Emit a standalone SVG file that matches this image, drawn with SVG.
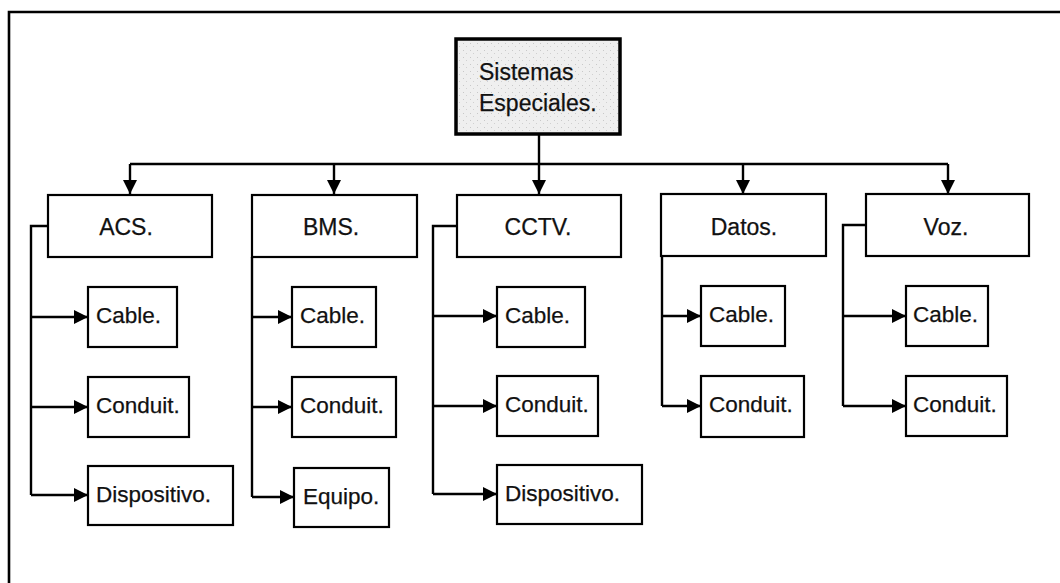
<svg xmlns="http://www.w3.org/2000/svg" width="1060" height="583" viewBox="0 0 1060 583">
<style>
  .box { fill: #ffffff; stroke: #000; stroke-width: 2.2; }
  .root { stroke: #000; stroke-width: 3.5; }
  .lbl { font-family: "Liberation Sans", Arial, sans-serif; font-size: 23px; fill: #111; stroke: #111; stroke-width: 0.25; }
  .sub { font-size: 22.5px; }
  .mid { text-anchor: middle; }
  .conn { fill: none; stroke: #000; stroke-width: 2.4; }
  .frame { fill: none; stroke: #000; stroke-width: 2.6; }
</style>
<defs>
  <marker id="ah" markerUnits="userSpaceOnUse" markerWidth="16" markerHeight="16" refX="14" refY="7" orient="auto">
    <path d="M0,0 L14,7 L0,14 Z" fill="#000"/>
  </marker>
  <pattern id="stip" width="7" height="7" patternUnits="userSpaceOnUse">
    <rect width="7" height="7" fill="#efefef"/>
    <rect x="1" y="1" width="1" height="1" fill="#c8c8c8"/>
    <rect x="4" y="4" width="1" height="1" fill="#d0d0d0"/>
  </pattern>
</defs>
<rect width="1060" height="583" fill="#ffffff"/>
<path class="frame" d="M9,583 V12 H1060"/>

<g id="connectors">
  <path class="conn" d="M539,134 V194" marker-end="url(#ah)"/>
  <path class="conn" d="M130,164 H948"/>
  <path class="conn" d="M130,164 V194" marker-end="url(#ah)"/>
  <path class="conn" d="M334,164 V194" marker-end="url(#ah)"/>
  <path class="conn" d="M743,164 V194" marker-end="url(#ah)"/>
  <path class="conn" d="M948,164 V194" marker-end="url(#ah)"/>

  <path class="conn" d="M48,226 H31 V495"/>
  <path class="conn" d="M31,317 H88" marker-end="url(#ah)"/>
  <path class="conn" d="M31,407 H88" marker-end="url(#ah)"/>
  <path class="conn" d="M31,495 H88" marker-end="url(#ah)"/>

  <path class="conn" d="M252,257 V497"/>
  <path class="conn" d="M252,317 H292" marker-end="url(#ah)"/>
  <path class="conn" d="M252,407 H292" marker-end="url(#ah)"/>
  <path class="conn" d="M252,497 H294" marker-end="url(#ah)"/>

  <path class="conn" d="M457,226 H433 V494"/>
  <path class="conn" d="M433,316 H497" marker-end="url(#ah)"/>
  <path class="conn" d="M433,406 H497" marker-end="url(#ah)"/>
  <path class="conn" d="M433,494 H497" marker-end="url(#ah)"/>

  <path class="conn" d="M662,257 V406"/>
  <path class="conn" d="M662,316 H701" marker-end="url(#ah)"/>
  <path class="conn" d="M662,406 H701" marker-end="url(#ah)"/>

  <path class="conn" d="M866,225 H843 V406"/>
  <path class="conn" d="M843,316 H906" marker-end="url(#ah)"/>
  <path class="conn" d="M843,406 H906" marker-end="url(#ah)"/>
</g>

<g id="root">
  <rect class="root" x="456" y="39" width="164" height="95" fill="url(#stip)"/>
  <text class="lbl" x="479" y="80">Sistemas</text>
  <text class="lbl" x="479" y="111">Especiales.</text>
</g>

<g id="acs"><rect class="box" x="48" y="195" width="164" height="62"/><text class="lbl mid" x="126" y="235">ACS.</text></g>
<g id="bms"><rect class="box" x="252" y="195" width="165" height="62"/><text class="lbl mid" x="331" y="235">BMS.</text></g>
<g id="cctv"><rect class="box" x="457" y="195" width="164" height="62"/><text class="lbl mid" x="538" y="235">CCTV.</text></g>
<g id="datos"><rect class="box" x="661" y="194" width="165" height="62"/><text class="lbl mid" x="744" y="235">Datos.</text></g>
<g id="voz"><rect class="box" x="866" y="194" width="163" height="62"/><text class="lbl mid" x="946" y="235">Voz.</text></g>

<g id="acs-cable"><rect class="box" x="88" y="287" width="89" height="60"/><text class="lbl sub" x="96" y="323">Cable.</text></g>
<g id="acs-conduit"><rect class="box" x="88" y="377" width="101" height="60"/><text class="lbl sub" x="96" y="413">Conduit.</text></g>
<g id="acs-dispositivo"><rect class="box" x="88" y="466" width="145" height="59"/><text class="lbl sub" x="96" y="502">Dispositivo.</text></g>

<g id="bms-cable"><rect class="box" x="292" y="287" width="84" height="60"/><text class="lbl sub" x="300" y="323">Cable.</text></g>
<g id="bms-conduit"><rect class="box" x="292" y="377" width="104" height="60"/><text class="lbl sub" x="300" y="413">Conduit.</text></g>
<g id="bms-equipo"><rect class="box" x="294" y="468" width="95" height="59"/><text class="lbl sub" x="303" y="504">Equipo.</text></g>

<g id="cctv-cable"><rect class="box" x="497" y="287" width="88" height="60"/><text class="lbl sub" x="505" y="323">Cable.</text></g>
<g id="cctv-conduit"><rect class="box" x="497" y="376" width="101" height="60"/><text class="lbl sub" x="505" y="412">Conduit.</text></g>
<g id="cctv-dispositivo"><rect class="box" x="497" y="465" width="145" height="59"/><text class="lbl sub" x="505" y="501">Dispositivo.</text></g>

<g id="datos-cable"><rect class="box" x="701" y="286" width="84" height="60"/><text class="lbl sub" x="709" y="322">Cable.</text></g>
<g id="datos-conduit"><rect class="box" x="701" y="376" width="103" height="61"/><text class="lbl sub" x="709" y="412">Conduit.</text></g>

<g id="voz-cable"><rect class="box" x="906" y="286" width="82" height="60"/><text class="lbl sub" x="913" y="322">Cable.</text></g>
<g id="voz-conduit"><rect class="box" x="906" y="376" width="101" height="60"/><text class="lbl sub" x="913" y="412">Conduit.</text></g>
</svg>
